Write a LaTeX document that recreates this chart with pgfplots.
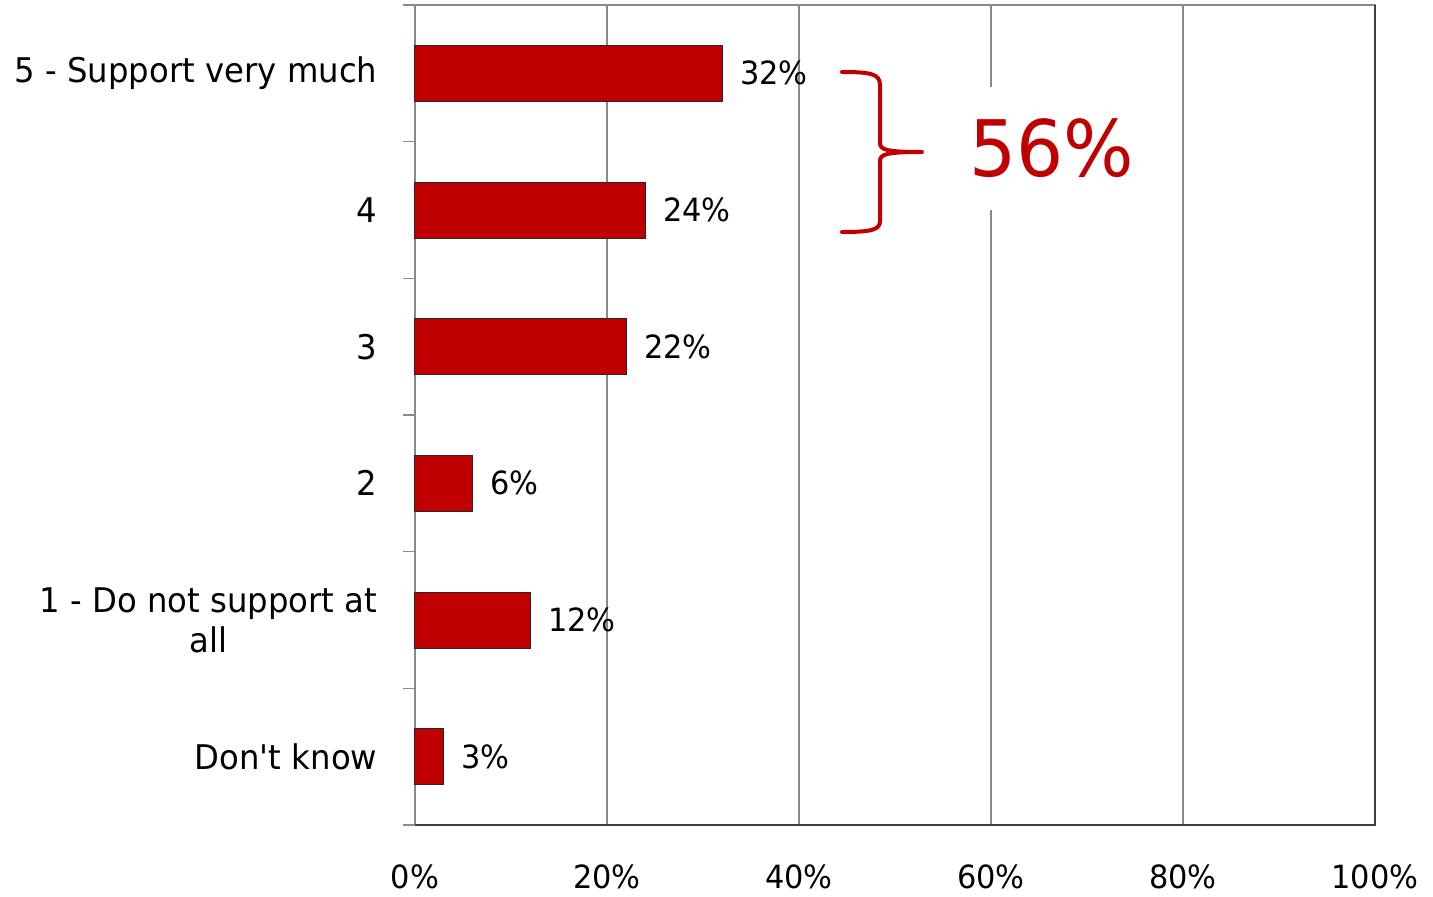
\documentclass[border=0pt]{standalone}
\usepackage{fontspec}
\setmainfont{DejaVu Sans}[FakeStretch=0.95]
\usepackage{pgfplots}
\pgfplotsset{compat=1.18}
\definecolor{barred}{HTML}{C00000}
\definecolor{gridgray}{HTML}{8A8A8A}
\begin{document}
\fontsize{17}{20}\selectfont
\begin{tikzpicture}
\useasboundingbox (-207.5pt,-35.5pt) rectangle (509pt,412.5pt);
\begin{axis}[
  at={(0,0)}, anchor=south west,
  scale only axis, width=480pt, height=410pt,
  xbar, bar width=28pt,
  xmin=0, xmax=100, ymin=-0.5, ymax=5.5,
  xtick={0,20,40,60,80,100},
  xticklabels={0\%,20\%,40\%,60\%,80\%,100\%},
  ytick={0,1,2,3,4,5},
  yticklabels={Don\textquotesingle t know,{1 - Do not support at\\all},2,3,4,5 - Support very much},
  yticklabel style={align=center, font=\fontsize{17}{20}\selectfont, xshift=-13pt},
  xticklabel style={font=\fontsize{16}{19}\selectfont, yshift=-14pt},
  minor ytick={-0.5,0.5,1.5,2.5,3.5,4.5,5.5},
  ytick pos=left, xtick pos=bottom,
  tick align=outside,
  major tick length=0pt,
  minor tick length=6pt,
  minor tick style={gridgray, line width=0.6pt},
  xmajorgrids, ymajorgrids=false,
  major grid style={gridgray, line width=0.6pt},
  axis line style={gridgray, line width=0.6pt},
  nodes near coords={\pgfmathprintnumber[assume math mode=true]{\pgfplotspointmeta}\%},
  every node near coord/.append style={anchor=west, xshift=3pt, font=\fontsize{16}{19}\selectfont, text=black},
  clip=false,
]
\addplot[fill=barred, draw=black!85, line width=0.5pt] coordinates {
  (3,0) (12,1) (6,2) (22,3) (24,4) (32,5)
};
\draw[black!75, line width=0.7pt] (rel axis cs:0,0) -- (rel axis cs:1,0) -- (rel axis cs:1,1);
\node[fill=white, text=barred, inner xsep=8pt, inner ysep=16pt, font=\fontsize{39}{39}\selectfont]
  at (axis cs:66.35,4.45) {56\%};
\end{axis}
\draw[barred, line width=2pt, line cap=round, line join=round]
  (213.5pt,376.5pt) .. controls (228pt,376.5pt) and (232.5pt,375.5pt) .. (232.5pt,370pt)
  -- (232.5pt,341pt) .. controls (232.5pt,337.5pt) and (236pt,336.5pt) .. (253.5pt,336.5pt)
  .. controls (236pt,336.5pt) and (232.5pt,335.5pt) .. (232.5pt,332pt)
  -- (232.5pt,302pt) .. controls (232.5pt,297.5pt) and (228pt,296.5pt) .. (213.5pt,296.5pt);
\end{tikzpicture}
\end{document}
